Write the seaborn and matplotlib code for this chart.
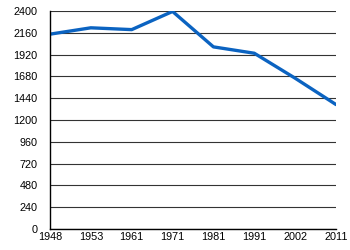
import matplotlib
matplotlib.use("Agg")
import matplotlib.pyplot as plt
import seaborn as sns
import pandas as pd

years = ["1948", "1953", "1961", "1971", "1981", "1991", "2002", "2011"]
population = [2145, 2215, 2195, 2395, 2005, 1935, 1660, 1370]
yticks = [0, 240, 480, 720, 960, 1200, 1440, 1680, 1920, 2160, 2400]

df = pd.DataFrame({"year": years, "population": population})

sns.set_style("white")
plt.rcParams["font.family"] = ["Liberation Sans", "DejaVu Sans"]

fig = plt.figure(figsize=(3.5, 2.5), dpi=100)
ax = fig.add_axes([50/350, 1 - 229/250, 286/350, 218/250])

sns.lineplot(data=df, x="year", y="population", ax=ax, color="#0b63c1",
             linewidth=2.4, sort=False)

ax.set_xlim(0, len(years) - 1)
ax.set_ylim(0, 2400)
ax.set_yticks(yticks)
ax.set_xticks(range(len(years)))
ax.set_xticklabels(years)
ax.yaxis.grid(True, color="#333333", linewidth=0.8)
ax.set_axisbelow(True)
for s in ["top", "right"]:
    ax.spines[s].set_visible(False)
for s in ["left", "bottom"]:
    ax.spines[s].set_color("black")
    ax.spines[s].set_linewidth(1.0)
ax.tick_params(axis="x", direction="in", length=4, width=0.8, labelsize=7.8, pad=2,
               color="black", labelcolor="black")
ax.tick_params(axis="y", length=0, labelsize=7.8, pad=9, labelcolor="black")
ax.set_xlabel("")
ax.set_ylabel("")

fig.savefig("out.png", dpi=100)
